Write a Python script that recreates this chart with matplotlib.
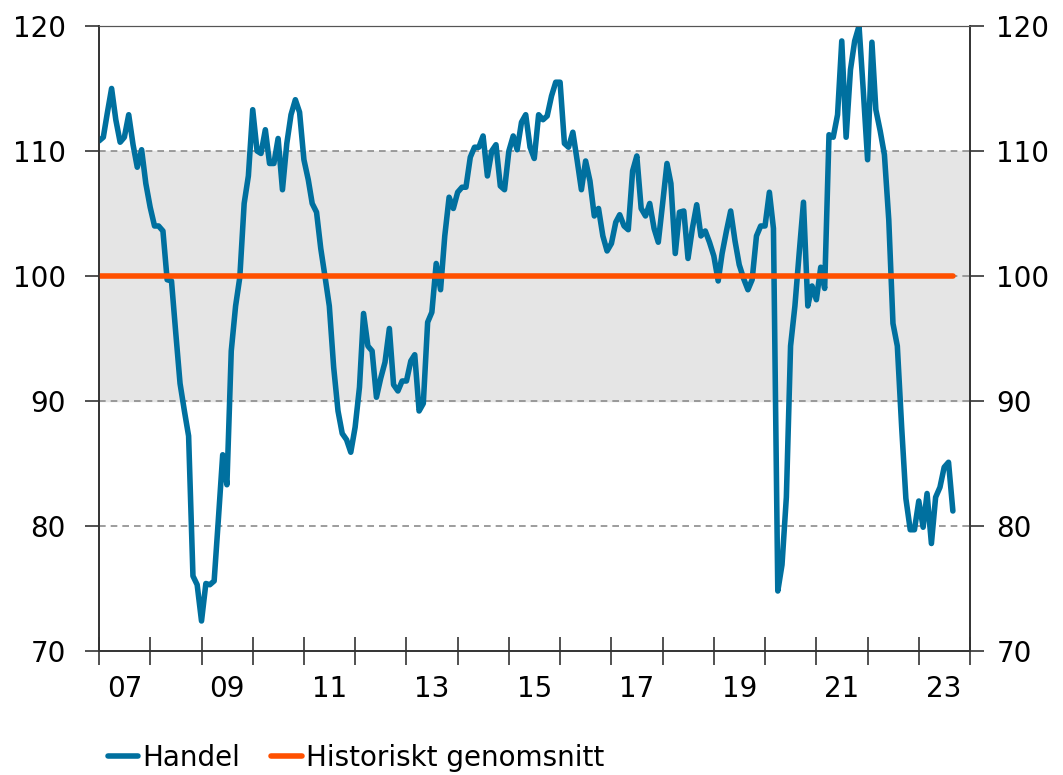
import numpy as np
import pandas as pd
import matplotlib
matplotlib.use('Agg')
import matplotlib.pyplot as plt
import matplotlib.dates as mdates

# Handel, månadsdata jan 2007 - sep 2023
handel = [
    110.8, 111.1, 113.0, 115.0, 112.5, 110.7, 111.1, 112.9, 110.5, 108.7, 110.1, 107.4,  # 2007
    105.5, 104.0, 104.0, 103.6, 99.7, 99.6, 95.5, 91.4, 89.2, 87.2, 76.0, 75.3,  # 2008
    72.4, 75.4, 75.3, 75.6, 80.5, 85.7, 83.3, 94.0, 97.6, 99.9, 105.8, 108.0,  # 2009
    113.3, 110.0, 109.8, 111.7, 109.0, 109.0, 111.0, 106.9, 110.6, 112.9, 114.1, 113.1,  # 2010
    109.3, 107.7, 105.8, 105.1, 102.2, 99.9, 97.6, 92.7, 89.2, 87.4, 86.9, 85.9,  # 2011
    87.9, 91.1, 97.0, 94.4, 94.0, 90.3, 91.8, 93.1, 95.8, 91.3, 90.8, 91.6,  # 2012
    91.6, 93.2, 93.7, 89.2, 89.8, 96.3, 97.1, 101.0, 98.9, 103.2, 106.3, 105.4,  # 2013
    106.7, 107.1, 107.1, 109.5, 110.3, 110.3, 111.2, 108.0, 110.0, 110.5, 107.2, 106.9,  # 2014
    110.0, 111.2, 110.1, 112.3, 112.9, 110.3, 109.4, 112.9, 112.5, 112.8, 114.4, 115.5,  # 2015
    115.5, 110.6, 110.3, 111.5, 109.3, 106.9, 109.2, 107.6, 104.8, 105.4, 103.2, 102.0,  # 2016
    102.6, 104.3, 104.9, 104.0, 103.7, 108.4, 109.6, 105.4, 104.8, 105.8, 103.8, 102.7,  # 2017
    105.8, 109.0, 107.4, 101.8, 105.1, 105.2, 101.4, 103.8, 105.7, 103.2, 103.6, 102.7,  # 2018
    101.6, 99.6, 101.8, 103.6, 105.2, 102.8, 100.9, 99.8, 98.9, 99.7, 103.2, 104.0,  # 2019
    104.0, 106.7, 103.8, 74.8, 76.9, 82.3, 94.4, 97.6, 101.9, 105.9, 97.6, 99.2,  # 2020
    98.1, 100.7, 99.0, 111.3, 111.1, 112.9, 118.8, 111.1, 116.5, 118.8, 120.0, 114.9,  # 2021
    109.3, 118.7, 113.3, 111.6, 109.7, 104.5, 96.2, 94.4, 87.9, 82.2, 79.7, 79.7,  # 2022
    82.0, 79.9, 82.6, 78.6, 82.3, 83.1, 84.7, 85.1, 81.2,  # 2023
]
snitt = 100
band_lo, band_hi = 90, 110
yticks = [70, 80, 90, 100, 110, 120]
label_years = list(range(2007, 2024, 2))

dates = pd.date_range('2007-01-01', periods=len(handel), freq='MS')

plt.rcParams['font.family'] = ['DejaVu Sans']
plt.rcParams['font.size'] = 20

fig = plt.figure(figsize=(10.63, 7.75), dpi=100)
ax = fig.add_axes([0.0931, 0.16, 0.8194, 0.8065])

ax.axhspan(band_lo, band_hi, color='#e5e5e5', zorder=0)
for y in [80, 90, 100, 110, 120]:
    ax.axhline(y, color='#8c8c8c', lw=1.2, ls=(0, (4, 3)), zorder=1)

ax.plot(dates, handel, color='#00709f', lw=4, label='Handel', zorder=3,
        solid_joinstyle='round', solid_capstyle='round')
ax.plot([dates[0], dates[-1]], [snitt, snitt], color='#ff5000', lw=4,
        label='Historiskt genomsnitt', zorder=4, solid_capstyle='round')

ax.set_ylim(70, 120)
ax.set_xlim(pd.Timestamp('2007-01-01'), pd.Timestamp('2024-01-01'))
ax.set_yticks(yticks)

# år-streck vid årsskiften, etiketter mitt i året
ax.xaxis.set_major_locator(mdates.YearLocator(1))
ax.xaxis.set_major_formatter(plt.NullFormatter())
ax.set_xticks([pd.Timestamp(f'{y}-07-01') for y in label_years], minor=True)
ax.set_xticklabels([f'{y % 100:02d}' for y in label_years], minor=True)
ax.tick_params(axis='x', which='major', direction='inout', length=20, width=1.2, color='#333333')
ax.tick_params(axis='x', which='minor', length=0, pad=17)
ax.tick_params(axis='y', direction='out', length=10, width=1.2, color='#333333', pad=14)

# högeraxel med egna etiketter
ax2 = ax.twinx()
ax2.set_ylim(ax.get_ylim())
ax2.set_yticks(yticks)
ax2.tick_params(axis='y', direction='out', length=10, width=1.2, color='#333333', pad=9)

for a in [ax, ax2]:
    for side in ['left', 'right', 'bottom']:
        a.spines[side].set_color('#333333')
        a.spines[side].set_linewidth(1.2)
    a.spines['top'].set_color('#555555')
    a.spines['top'].set_linewidth(0.8)

fig.legend(*ax.get_legend_handles_labels(), loc='lower left', bbox_to_anchor=(0.078, -0.028),
           ncol=2, frameon=False, handlelength=1.1, handletextpad=0.15,
           columnspacing=1.1, fontsize=20)

fig.savefig('out.png', dpi=100)
